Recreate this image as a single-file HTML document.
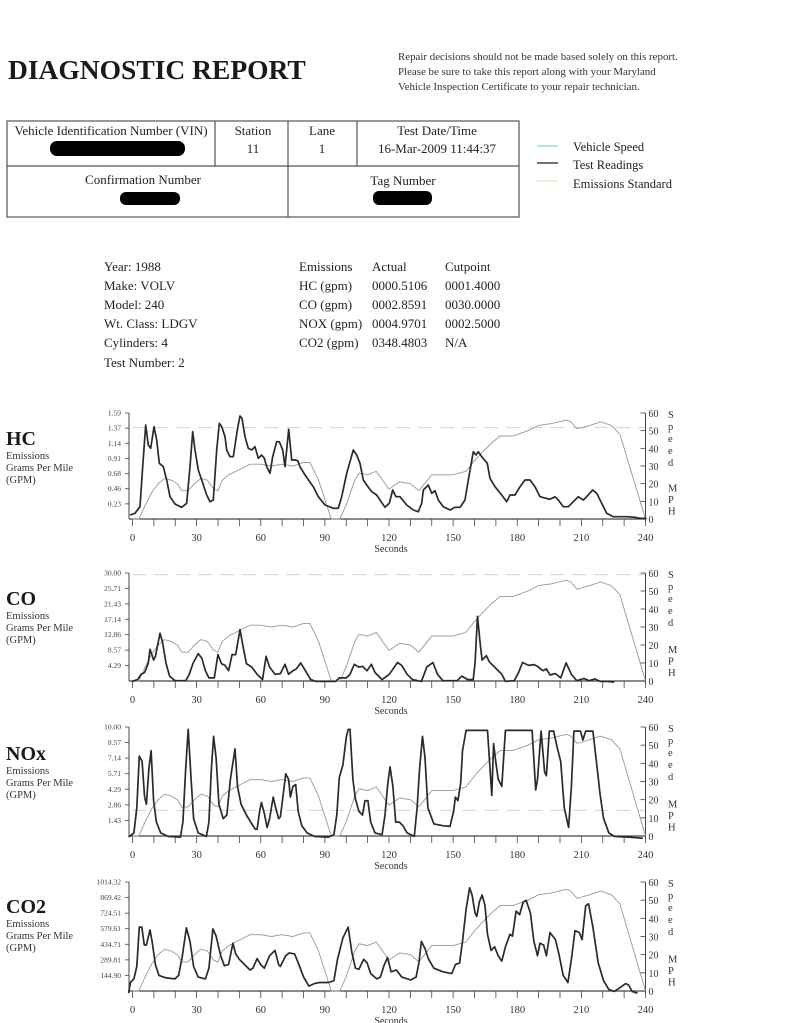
<!DOCTYPE html>
<html><head><meta charset="utf-8">
<style>
html,body{margin:0;padding:0;background:#fff;}
body{width:797px;height:1023px;position:relative;overflow:hidden;font-family:"Liberation Serif",serif;color:#222;}
.a{position:absolute;white-space:nowrap;}
</style></head><body>
<div class="a" style="left:8px;top:54px;font-size:27.5px;font-weight:bold;color:#1a1a1a;">DIAGNOSTIC REPORT</div>
<div class="a" style="left:398px;top:50px;font-size:10.9px;line-height:15px;color:#333;">Repair decisions should not be made based solely on this report.<br>Please be sure to take this report along with your Maryland<br>Vehicle Inspection Certificate to your repair technician.</div>

<svg class="a" style="left:0;top:0" width="797" height="1023" id="s" xmlns="http://www.w3.org/2000/svg" font-family="Liberation Serif, serif">
<g stroke="#555" stroke-width="1.2" fill="none">
<rect x="7" y="121" width="512" height="96"/>
<line x1="7" y1="166" x2="519" y2="166"/>
<line x1="215" y1="121" x2="215" y2="166"/>
<line x1="288" y1="121" x2="288" y2="217"/>
<line x1="357" y1="121" x2="357" y2="166"/>
</g>
<g font-size="13" fill="#222" text-anchor="middle">
<text x="111" y="135">Vehicle Identification Number (VIN)</text>
<text x="253" y="135">Station</text><text x="253" y="153">11</text>
<text x="322" y="135">Lane</text><text x="322" y="153">1</text>
<text x="437" y="135">Test Date/Time</text><text x="437" y="153">16-Mar-2009 11:44:37</text>
<text x="143" y="184">Confirmation Number</text>
<text x="403" y="185">Tag Number</text>
</g>
<rect x="50" y="141" width="135" height="15" rx="7" fill="#000"/>
<rect x="120" y="192" width="60" height="13" rx="6" fill="#000"/>
<rect x="373" y="191" width="59" height="14" rx="6" fill="#000"/>
<line x1="537" y1="146" x2="558" y2="146" stroke="#9dd" stroke-width="1.5"/>
<line x1="537" y1="163" x2="558" y2="163" stroke="#444" stroke-width="1.5"/>
<line x1="537" y1="181" x2="558" y2="181" stroke="#eee8c8" stroke-width="1.5"/>
<g font-size="12.5" fill="#222">
<text x="573" y="151">Vehicle Speed</text>
<text x="573" y="169">Test Readings</text>
<text x="573" y="188">Emissions Standard</text>
</g>
<g font-size="13" fill="#222">
<text x="104" y="271">Year: 1988</text><text x="104" y="290">Make: VOLV</text><text x="104" y="309">Model: 240</text>
<text x="104" y="328">Wt. Class: LDGV</text><text x="104" y="347">Cylinders: 4</text><text x="104" y="367">Test Number: 2</text>
<text x="299" y="271">Emissions</text><text x="372" y="271">Actual</text><text x="445" y="271">Cutpoint</text>
<text x="299" y="290">HC (gpm)</text><text x="372" y="290">0000.5106</text><text x="445" y="290">0001.4000</text>
<text x="299" y="309">CO (gpm)</text><text x="372" y="309">0002.8591</text><text x="445" y="309">0030.0000</text>
<text x="299" y="328">NOX (gpm)</text><text x="372" y="328">0004.9701</text><text x="445" y="328">0002.5000</text>
<text x="299" y="347">CO2 (gpm)</text><text x="372" y="347">0348.4803</text><text x="445" y="347">N/A</text>
</g>
<g id="charts"></g>
</svg>
<script>
var NS="http://www.w3.org/2000/svg",G=document.getElementById("charts");
function el(t,a,txt){var e=document.createElementNS(NS,t);for(var k in a)e.setAttribute(k,a[k]);if(txt!=null)e.textContent=txt;G.appendChild(e);return e;}
var speed=[[0,0],[3,0],[6,8],[9,15],[12,20],[15,23],[18,22],[21,20],[23,16],[26,16],[29,20],[32,23],[35,22],[38,17],[40,16],[42,22],[45,25],[50,28],[55,31],[60,31],[65,30],[70,31],[75,30],[80,32],[83,32],[87,22],[93,0],[97,0],[100,8],[104,22],[106,26],[110,25],[114,27],[117,22],[120,17],[125,21],[130,20],[134,16],[140,25],[150,25],[156,27],[160,33],[163,37],[168,43],[172,47],[178,47],[185,50],[190,53],[196,54],[203,56],[205,55],[208,51],[214,53],[219,55],[224,53],[228,48],[240,0]];
var charts=[
{name:"HC",top:413,base:519,labels:["1.59","1.37","1.14","0.91","0.68","0.46","0.23"],std:1.37/1.59,ly:445,
 segs:[{ox:0,oy:400,s:3,p:[390,345,405,340,420,320,428,200,437,75,445,135,452,145,462,80,470,120,478,190,490,200,500,240,510,290,525,312,545,322,560,310,570,200,578,95,585,150,595,210,605,240,620,285,630,305,640,300,650,150,658,70,665,80,675,110,680,150,690,170,700,170,712,90,720,48,726,55,735,110,745,145,755,150,765,140,775,175,785,165,793,175,800,200,810,220,818,170,830,125,838,125,848,150,855,200,866,88,875,180,885,180,893,182,900,200,915,225,940,260,955,290,975,315,1000,325,1015,325,1025,290,1040,220,1060,150,1070,165,1080,190,1090,240,1100,255,1115,275,1130,285,1140,300,1155,322,1168,310,1178,270,1188,290,1200,290]},
 {ox:400,oy:400,s:3,p:[0,290,20,315,40,330,55,335,65,310,70,270,85,255,95,280,105,272,115,300,130,320,150,330,165,322,180,322,195,300,205,240,220,155,228,165,235,155,245,170,262,190,270,235,285,260,305,285,320,305,330,285,345,285,360,260,375,240,390,240,405,260,420,290,450,298,465,290,475,300,490,320,505,320,515,310,535,290,550,300,560,290,578,270,590,280,605,310,620,340,640,350,680,350,705,352,720,355,740,355]}]},
{name:"CO",top:573,base:681,labels:["30.00","25.71","21.43","17.14","12.86","8.57","4.29"],std:0.985,ly:605,
 segs:[{ox:100,oy:560,s:2.8,p:[90,340,105,335,115,320,125,315,135,290,140,250,150,280,155,270,168,205,175,230,185,290,195,325,210,338,240,338,250,320,260,290,275,262,285,275,295,310,305,330,320,330,330,265,340,290,350,295,360,310,370,265,380,265,392,195,400,240,410,290,425,300,440,320,455,335,465,270,475,300,490,320,505,318,518,292,528,320,540,310,550,305,562,288,575,310,590,335,605,340,660,340,670,330,690,330,700,320,712,292,725,300,735,298,748,310,760,292,770,315,790,335,810,320,833,287,845,295,860,320,875,335,900,340,915,300,932,287,945,320,960,338,1000,338,1013,325,1030,335,1045,335,1050,290,1057,158,1065,240,1070,280,1082,268,1090,285,1110,305,1125,320,1135,340,1160,338,1172,315,1183,287,1200,295,1215,293,1225,298,1240,310,1250,305,1260,322,1275,318,1290,330,1305,288,1320,320,1335,338,1355,332,1370,338,1385,333,1400,340,1420,340,1440,342]}]},
{name:"NOx",top:727,base:836,labels:["10.00","8.57","7.14","5.71","4.29","2.86","1.43"],std:0.235,ly:760,
 segs:[{ox:100,oy:715,s:2.8,p:[80,342,95,330,103,260,110,115,118,130,125,230,130,250,137,150,143,100,150,240,158,300,170,330,190,340,225,342,232,300,240,150,247,40,255,180,262,290,275,330,298,340,305,300,312,150,318,60,325,120,333,250,345,290,355,280,365,180,378,95,385,200,395,250,410,280,425,305,435,320,440,320,447,270,452,245,460,275,468,315,475,290,485,230,492,260,500,290,505,285,512,230,520,165,528,180,533,230,540,200,548,195,555,270,565,310,580,330,600,340,640,342,655,335,663,280,670,175,680,140,690,60,695,40,700,40,708,180,715,235,725,270,735,280,742,240,750,240,758,300,770,330,790,335,798,280,805,200,812,145,820,200,828,300,838,300,848,310,860,330,880,340,888,260,895,150,903,60,910,120,918,260,935,305,960,310,980,312,990,270,995,230,1002,240,1010,190,1015,100,1025,43,1085,43,1092,150,1097,225,1102,80,1108,130,1115,180,1125,200,1135,43,1210,43,1220,210,1225,180,1235,45,1245,160,1250,170,1258,45,1270,45,1280,90,1290,130,1300,260,1312,315,1320,200,1327,45,1345,45,1352,70,1360,45,1380,45,1390,130,1400,220,1410,290,1425,330,1440,340,1480,342,1520,345]}]},
{name:"CO2",top:882,base:991,labels:["1014.32","869.42","724.51","579.61","434.71","289.81","144.90"],std:null,ly:913,
 segs:[{ox:100,oy:870,s:2.8,p:[80,345,85,315,95,305,103,270,110,160,117,160,124,210,130,210,140,168,146,200,155,265,165,295,185,302,210,305,220,295,230,245,242,162,252,200,262,270,275,300,295,305,305,275,316,165,325,185,338,240,348,268,360,265,372,205,380,235,390,250,405,265,420,280,428,275,440,248,450,265,460,275,475,240,490,225,500,265,505,270,520,240,530,232,545,235,557,265,570,300,585,325,600,318,615,315,640,315,655,310,665,250,680,190,695,160,705,230,715,275,725,278,738,250,748,260,758,290,775,305,785,300,795,268,805,245,815,285,830,280,845,300,870,308,885,300,893,260,900,200,910,220,920,250,935,275,960,285,985,290,995,265,1007,260,1015,200,1025,110,1035,50,1042,70,1050,120,1055,130,1062,90,1070,70,1078,100,1085,180,1095,225,1105,215,1115,240,1125,255,1135,215,1148,180,1155,185,1165,115,1175,125,1185,90,1193,85,1205,120,1215,200,1225,240,1232,205,1242,210,1250,240,1260,175,1275,195,1285,235,1297,295,1310,315,1320,250,1330,170,1342,175,1350,195,1360,100,1368,95,1380,160,1395,260,1410,310,1425,335,1440,340,1455,330,1472,318,1480,322,1490,340,1505,345]}]}
];
var X0=132.5,X1=645.5;
charts.forEach(function(c){
 var T=c.top,B=c.base,H=B-T;
 el("text",{x:6,y:c.ly,"font-size":20,"font-weight":"bold",fill:"#1a1a1a"},c.name);
 ["Emissions","Grams Per Mile","(GPM)"].forEach(function(s,i){el("text",{x:6,y:c.ly+14+i*12,"font-size":10.5,fill:"#333"},s);});
 if(c.std!=null){var ys=B-c.std*H;el("line",{x1:X0,y1:ys,x2:X1,y2:ys,stroke:"#b9dce6","stroke-width":1,"stroke-dasharray":"14 8"});}
 el("line",{x1:129,y1:T,x2:129,y2:B,stroke:"#444","stroke-width":1});
 el("line",{x1:129,y1:B,x2:X1,y2:B,stroke:"#444","stroke-width":1.2});
 el("line",{x1:X1,y1:T,x2:X1,y2:B+3,stroke:"#444","stroke-width":1});
 for(var k=0;k<7;k++){var y=T+k*H/7;el("line",{x1:125,y1:y,x2:129,y2:y,stroke:"#444","stroke-width":0.8});
  el("text",{x:121,y:y+2.5,"font-size":7.5,"text-anchor":"end",fill:"#444"},c.labels[k]);}
 for(var s=0;s<=60;s+=10){var y=B-s/60*H;el("line",{x1:X1-5,y1:y,x2:X1,y2:y,stroke:"#444","stroke-width":0.8});
  el("text",{x:X1+3,y:y+4,"font-size":10,fill:"#333"},String(s));}
 "Speed".split("").forEach(function(ch,i){el("text",{x:668,y:T+5+i*12,"font-size":10.5,fill:"#333"},ch);});
 "MPH".split("").forEach(function(ch,i){el("text",{x:668,y:T+H*0.74+i*11.5,"font-size":10.5,fill:"#333"},ch);});
 for(var t=0;t<=240;t+=10){var x=X0+t*(X1-X0)/240;el("line",{x1:x,y1:B,x2:x,y2:B+7,stroke:"#444","stroke-width":0.8});
  if(t%30==0)el("text",{x:x,y:B+22,"font-size":10.5,"text-anchor":"middle",fill:"#333"},String(t));}
 el("text",{x:391,y:B+33,"font-size":10,"text-anchor":"middle",fill:"#333"},"Seconds");
 var sp=speed.map(function(p){return (X0+p[0]*(X1-X0)/240).toFixed(1)+","+(B-p[1]/60*H).toFixed(1);}).join(" ");
 el("polyline",{points:sp,fill:"none",stroke:"#999","stroke-width":0.9});
 var pts=[];c.segs.forEach(function(g){for(var i=0;i<g.p.length;i+=2)pts.push((g.ox+g.p[i]/g.s).toFixed(1)+","+(g.oy+g.p[i+1]/g.s).toFixed(1));});
 el("polyline",{points:pts.join(" "),fill:"none",stroke:"#2a2a2a","stroke-width":1.7,"stroke-linejoin":"round"});
});
</script>
</body></html>
